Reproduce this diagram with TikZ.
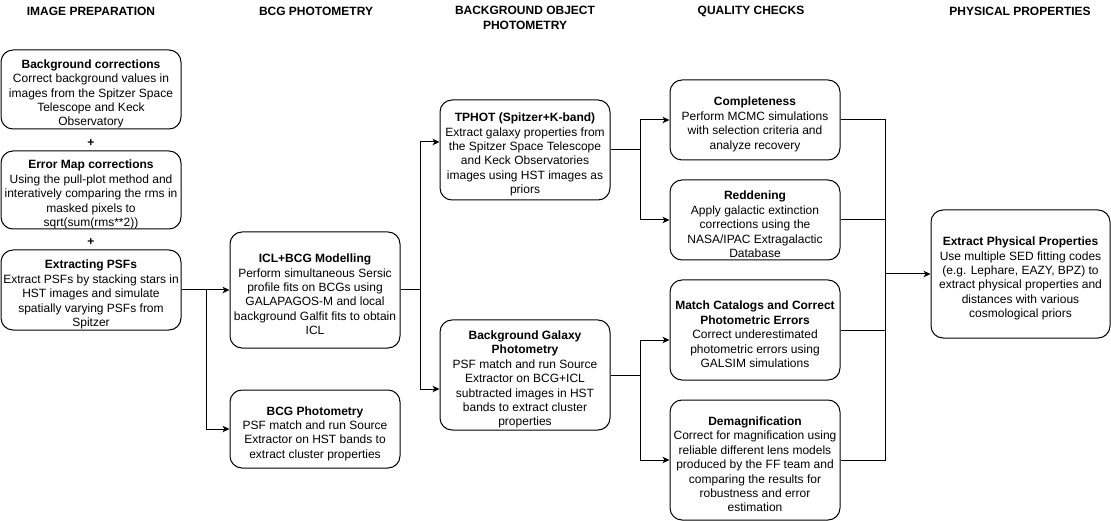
\documentclass[tikz,border=0pt]{standalone}
\usepackage{fontspec}
\setmainfont{Liberation Sans}
\usetikzlibrary{arrows.meta,calc}
\begin{document}
\begin{tikzpicture}[x=1pt,y=-1pt,
  box/.style={draw, line width=1pt, rounded corners=12pt, fill=white, inner sep=0pt},
  txt/.style={align=center, inner sep=0pt, font=\fontsize{12}{14.4}\selectfont},
  hdr/.style={align=center, inner sep=0pt, font=\fontsize{12}{14.4}\selectfont\bfseries},
  conn/.style={line width=1pt},
  arr/.style={line width=1pt, -{Stealth[length=7pt,width=6.5pt,inset=2pt]}}]
\useasboundingbox (0,0) rectangle (1111,521);

% headers
\node[hdr] (h1) at (91,11) {IMAGE PREPARATION};
\node[hdr] (h2) at (316,11) {BCG PHOTOMETRY};
\node[hdr] (h3) at (525,18) {BACKGROUND OBJECT\\PHOTOMETRY};
\node[hdr] (h4) at (751,11) {QUALITY CHECKS};
\node[hdr] (h5) at (1020,11) {PHYSICAL PROPERTIES};

% column 1
\node[box, minimum width=180pt, minimum height=79pt] (b1) at (91,89.5) {};
\node[txt] (b1t) at ($(b1.center)+(0,4.5)$)
  {\textbf{Background corrections}\\Correct background values in\\images from the Spitzer Space\\Telescope and Keck\\Observatory};
\node[hdr] (p1) at (91,142.5) {+};
\node[box, minimum width=180pt, minimum height=78pt] (b2) at (91,190) {};
\node[txt] (b2t) at ($(b2.center)+(0,4.5)$)
  {\textbf{Error Map corrections}\\Using the pull-plot method and\\interatively comparing the rms in\\masked pixels to\\sqrt(sum(rms**2))};
\node[hdr] (p2) at (91,241.5) {+};
\node[box, minimum width=180pt, minimum height=80pt] (b3) at (91,290) {};
\node[txt] (b3t) at ($(b3.center)+(0,4.5)$)
  {\textbf{Extracting PSFs}\\Extract PSFs by stacking stars in\\HST images and simulate\\spatially varying PSFs from\\Spitzer};

% column 2
\node[box, minimum width=170pt, minimum height=116pt] (icl) at (315,290) {};
\node[txt] (iclt) at ($(icl.center)+(0,4.5)$)
  {\textbf{ICL+BCG Modelling}\\Perform simultaneous Sersic\\profile fits on BCGs using\\GALAPAGOS-M and local\\background Galfit fits to obtain\\ICL};
\node[box, minimum width=170pt, minimum height=78pt] (bcgp) at (315,429) {};
\node[txt] (bcgpt) at ($(bcgp.center)+(0,4.5)$)
  {\textbf{BCG Photometry}\\PSF match and run Source\\Extractor on HST bands to\\extract cluster properties};

% column 3
\node[box, minimum width=170pt, minimum height=100pt] (tphot) at (525,150) {};
\node[txt] (tphott) at ($(tphot.center)+(0,4.5)$)
  {\textbf{TPHOT (Spitzer+K-band)}\\Extract galaxy properties from\\the Spitzer Space Telescope\\and Keck Observatories\\images using HST images as\\priors};
\node[box, minimum width=170pt, minimum height=110pt] (bgg) at (525,375) {};
\node[txt] (bggt) at ($(bgg.center)+(0,4.5)$)
  {\textbf{Background Galaxy}\\\textbf{Photometry}\\PSF match and run Source\\Extractor on BCG+ICL\\subtracted images in HST\\bands to extract cluster\\properties};

% column 4
\node[box, minimum width=170pt, minimum height=80pt] (comp) at (755,120) {};
\node[txt] (compt) at ($(comp.center)+(0,4.5)$)
  {\textbf{Completeness}\\Perform MCMC simulations\\with selection criteria and\\analyze recovery};
\node[box, minimum width=170pt, minimum height=80pt] (redd) at (755,220) {};
\node[txt] (reddt) at ($(redd.center)+(0,4.5)$)
  {\textbf{Reddening}\\Apply galactic extinction\\corrections using the\\NASA/IPAC Extragalactic\\Database};
\node[box, minimum width=170pt, minimum height=100pt] (match) at (755,330) {};
\node[txt] (matcht) at ($(match.center)+(0,4.5)$)
  {\textbf{Match Catalogs and Correct}\\\textbf{Photometric Errors}\\Correct underestimated\\photometric errors using\\GALSIM simulations};
\node[box, minimum width=170pt, minimum height=120pt] (demag) at (755,460) {};
\node[txt] (demagt) at ($(demag.center)+(0,4.5)$)
  {\textbf{Demagnification}\\Correct for magnification using\\reliable different lens models\\produced by the FF team and\\comparing the results for\\robustness and error\\estimation};

% column 5
\node[box, minimum width=179pt, minimum height=128pt] (ext) at (1020.5,274) {};
\node[txt] (extt) at ($(ext.center)+(0,4.5)$)
  {\textbf{Extract Physical Properties}\\Use multiple SED fitting codes\\(e.g. Lephare, EAZY, BPZ) to\\extract physical properties and\\distances with various\\cosmological priors};

% junction columns
\coordinate (c1) at (206,0);
\coordinate (c2) at (420,0);
\coordinate (c3) at (640,0);
\coordinate (c4) at (885,0);

% connectors
\draw[arr] (b3.east) -- (icl.west);
\draw[arr] (b3.east -| c1) |- (bcgp.west);

\draw[arr] (icl.east) -| ($(c2 |- tphot.west)+(0,-8)$) -- ($(tphot.west)+(0,-8)$);
\draw[arr] (icl.east) -| ($(c2 |- bgg.west)+(0,14)$) -- ($(bgg.west)+(0,14)$);

\draw[arr] (tphot.east) -| (c3 |- comp.west) -- (comp.west);
\draw[arr] (tphot.east) -| (c3 |- redd.west) -- (redd.west);
\draw[arr] (bgg.east) -| ($(c3 |- match.west)+(0,10)$) -- ($(match.west)+(0,10)$);
\draw[arr] (bgg.east) -| (c3 |- demag.west) -- (demag.west);

\draw[conn] (comp.east) -| (c4 |- ext.west);
\draw[conn] (redd.east) -- (redd.east -| c4);
\draw[conn] (match.east) -- (match.east -| c4);
\draw[conn] (demag.east) -| (c4 |- ext.west);
\draw[arr] (c4 |- ext.west) -- (ext.west);
\end{tikzpicture}
\end{document}
